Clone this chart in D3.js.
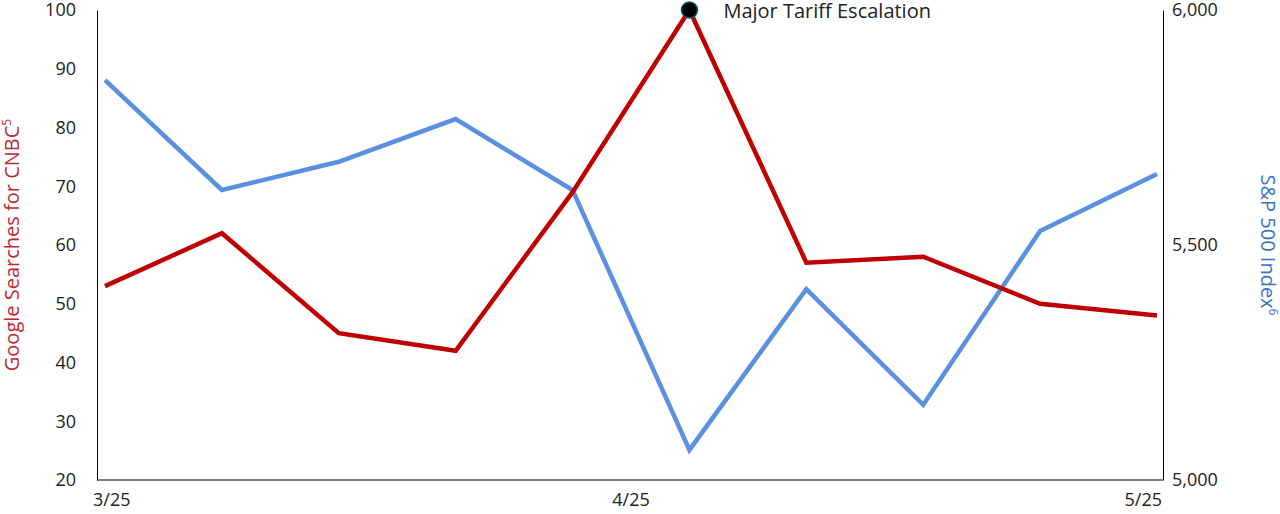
<!DOCTYPE html>
<html><head><meta charset="utf-8">
<script src="https://cdn.jsdelivr.net/npm/d3@7"></script>
<style>body{margin:0;background:#fff}text{font-family:"Open Sans",sans-serif}</style>
</head><body><svg id="c" width="1280" height="514"></svg>
<script>
const periods = [0,1,2,3,4,5,6,7,8,9];
const searches = [53,62,45,42,69,100,57,58,50,48];
const sp500 = [5851,5617,5677,5768,5617,5064,5406,5160,5530,5651];
const xTickPos = [0,4.5,9];
const xTickLabels = ["3/25","4/25","5/25"];
const leftTicks = [20,30,40,50,60,70,80,90,100];
const rightTicks = [5000,5500,6000];
const annotIdx = 5, annotText = "Major Tariff Escalation";

const svg = d3.select("#c");
const L=97, R=1163, T=10, B=480;
const x = d3.scaleLinear().domain([0,9]).range([105,1157]);
const yL = d3.scaleLinear().domain([20,100]).range([B,T]);
const yR = d3.scaleLinear().domain([5000,6000]).range([B,T]);

const la = svg.append("g").attr("transform",`translate(${L},0)`).call(d3.axisLeft(yL).tickValues(leftTicks).tickSize(0).tickSizeOuter(0));
const ra = svg.append("g").attr("transform",`translate(${R},0)`).call(d3.axisRight(yR).tickValues(rightTicks).tickSize(0).tickSizeOuter(0).tickFormat(d3.format(",")));
[la,ra].forEach(g=>{g.selectAll("text").attr("font-size",18).attr("fill","#222");g.selectAll("path").attr("stroke","#000");});
ra.selectAll("text").attr("x",9);
la.selectAll("text").attr("x",-21);
svg.append("line").attr("x1",L).attr("x2",R).attr("y1",B).attr("y2",B).attr("stroke","#000");
const anchors=["start","middle","end"], dx=[-12,0,5];
svg.selectAll(".xt").data(xTickPos).join("text").attr("x",(d,i)=>x(d)+dx[i]).attr("y",506)
  .attr("text-anchor",(d,i)=>anchors[i]).attr("font-size",18).attr("fill","#222").text((d,i)=>xTickLabels[i]);

const line = (s,y)=>d3.line().x((d,i)=>x(periods[i])).y(d=>y(d))(s);
svg.append("path").attr("d",line(sp500,yR)).attr("fill","none").attr("stroke","#5B8FE0").attr("stroke-width",4.5);
svg.append("path").attr("d",line(searches,yL)).attr("fill","none").attr("stroke","#C00000").attr("stroke-width",4.5);

svg.append("circle").attr("cx",x(annotIdx)).attr("cy",yL(searches[annotIdx])).attr("r",8).attr("fill","#000").attr("stroke","#0a6060").attr("stroke-width",1.5);
svg.append("text").attr("x",x(annotIdx)+34).attr("y",yL(searches[annotIdx])+8).attr("font-size",20).attr("fill","#222").text(annotText);

svg.append("text").attr("transform",`translate(19,${(T+B)/2}) rotate(-90)`).attr("text-anchor","middle").attr("font-size",20).attr("fill","#C0282D")
  .html('Google Searches for CNBC<tspan baseline-shift="super" font-size="12">5</tspan>');
svg.append("text").attr("transform",`translate(1261,${(T+B)/2}) rotate(90)`).attr("text-anchor","middle").attr("font-size",20).attr("fill","#3A72C4")
  .html('S&amp;P 500 Index<tspan baseline-shift="super" font-size="12">6</tspan>');
</script></body></html>
